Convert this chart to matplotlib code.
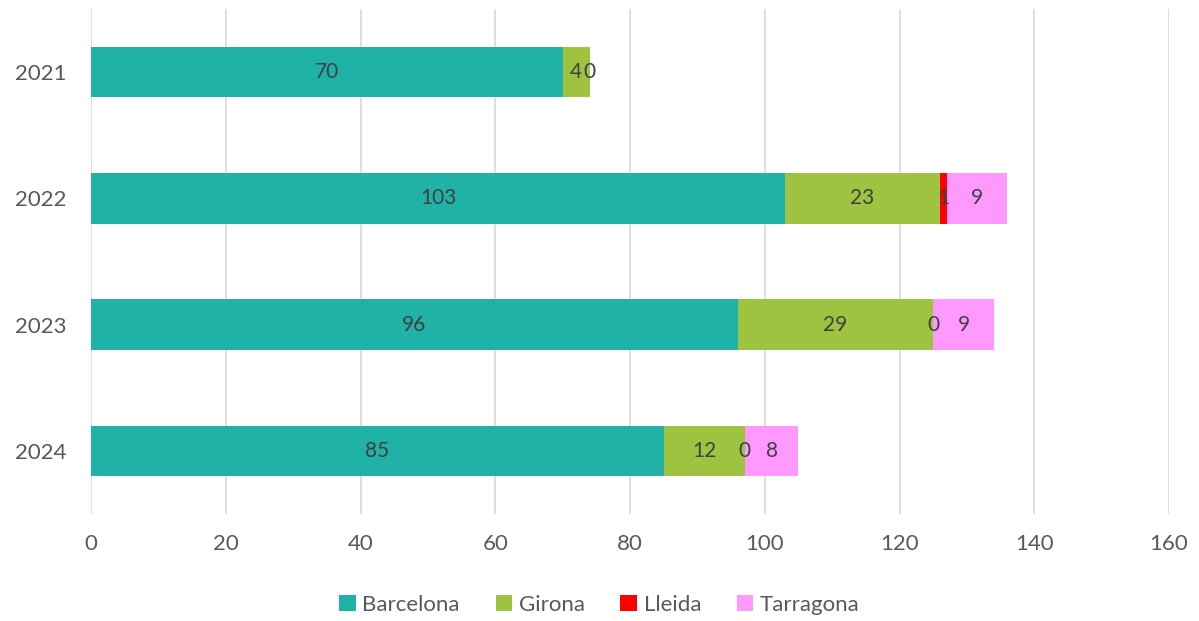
import numpy as np
import matplotlib
matplotlib.use('Agg')
import matplotlib.pyplot as plt

years = ['2021', '2022', '2023', '2024']
barcelona = [70, 103, 96, 85]
girona = [4, 23, 29, 12]
lleida = [0, 1, 0, 0]
tarragona = [0, 9, 9, 8]

series = [('Barcelona', barcelona, '#20B2A6'),
          ('Girona', girona, '#9DC340'),
          ('Lleida', lleida, '#FF0000'),
          ('Tarragona', tarragona, '#FF99FF')]

plt.rcParams['font.family'] = ['Lato', 'DejaVu Sans']
txt_color = '#595959'

fig = plt.figure(figsize=(11.99, 6.21), dpi=100)
ax = fig.add_axes([0.076, 0.172, 0.899, 0.8135])

y = np.arange(len(years))
left = np.zeros(len(years))
for name, vals, col in series:
    vals = np.array(vals, dtype=float)
    bars = ax.barh(y, vals, left=left, height=0.4, color=col, label=name, zorder=3)
    labels = [str(int(v)) for v in vals]
    if name == 'Tarragona':
        labels = ['' if i == 0 else l for i, l in enumerate(labels)]
    txts = ax.bar_label(bars, labels=labels, label_type='center', color='#404040', fontsize=15)
    for t in txts:
        t.set_zorder(10)
    left += vals

ax.set_xlim(0, 160)
ax.set_ylim(3.5, -0.5)
ax.set_yticks(y)
ax.set_yticklabels(years)
ax.set_xticks(range(0, 161, 20))
ax.grid(axis='x', color='#D9D9D9', linewidth=1.2, zorder=0)
for s in ax.spines.values():
    s.set_visible(False)
ax.tick_params(length=0, labelsize=16, colors=txt_color)
ax.tick_params(axis='x', pad=14)
ax.tick_params(axis='y', pad=18)

fig.legend(loc='center', bbox_to_anchor=(0.5, 0.026), ncol=4, frameon=False,
           fontsize=16, handlelength=0.75, handleheight=0.75, handletextpad=0.3,
           columnspacing=1.6, labelcolor=txt_color)

plt.savefig('out.png', dpi=100, facecolor='white')
